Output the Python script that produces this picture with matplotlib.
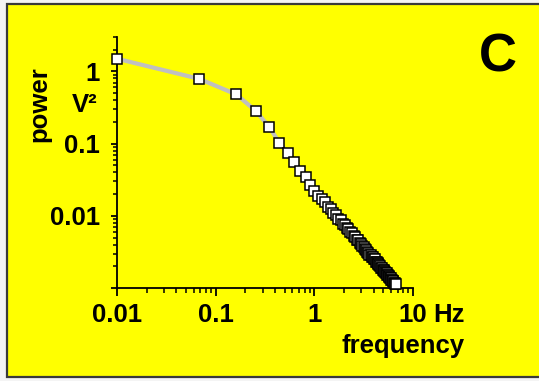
import matplotlib
matplotlib.use("Agg")
import matplotlib.pyplot as plt
from matplotlib.patches import Rectangle
from matplotlib.ticker import FixedLocator, LogLocator, NullFormatter

# spectrum (Hz, V^2)
freq = [0.01, 0.068, 0.162, 0.255, 0.349, 0.442, 0.536, 0.629, 0.723, 0.816,
        0.910, 1.003, 1.097, 1.19, 1.284, 1.377, 1.471, 1.564, 1.658, 1.751,
        1.845, 1.938, 2.032, 2.125, 2.219, 2.312, 2.406, 2.499, 2.593, 2.686,
        2.780, 2.873, 2.967, 3.060, 3.154, 3.247, 3.341, 3.434, 3.528, 3.621,
        3.715, 3.808, 3.902, 3.995, 4.089, 4.182, 4.276, 4.369, 4.463, 4.556,
        4.650, 4.743, 4.837, 4.930, 5.024, 5.117, 5.211, 5.304, 5.398, 5.491,
        5.585, 5.678, 5.772, 5.865, 5.959, 6.052, 6.146, 6.239, 6.333, 6.426,
        6.520, 6.613, 6.707]
power = [1.5, 0.79, 0.48, 0.284, 0.17, 0.103, 0.074, 0.055, 0.042, 0.034,
         0.027, 0.022, 0.019, 0.0170, 0.0153, 0.0133, 0.0124, 0.0109, 0.0102,
         0.0091, 0.0087, 0.0078, 0.0075, 0.0067, 0.0065, 0.0059, 0.0057,
         0.0052, 0.0051, 0.0046, 0.0046, 0.0042, 0.0041, 0.0038, 0.0037,
         0.0035, 0.0034, 0.0032, 0.0031, 0.0029, 0.0029, 0.0027, 0.0027,
         0.0025, 0.0025, 0.0023, 0.0023, 0.0022, 0.00215, 0.00205, 0.00202,
         0.00192, 0.0019, 0.0018, 0.00178, 0.0017, 0.00168, 0.00161, 0.0016,
         0.00153, 0.00151, 0.00145, 0.00143, 0.00138, 0.00136, 0.00131,
         0.0013, 0.00125, 0.00124, 0.00119, 0.00118, 0.00114, 0.00112]

xticks = [0.01, 0.1, 1, 10]
xlabels = ["0.01", "0.1", "1", "10"]
yticks = [0.001, 0.01, 0.1, 1]
ylabels = ["", "0.01", "0.1", "1"]

YELLOW = "#ffff00"
FS = 18.5
plt.rcParams["font.family"] = ["Liberation Sans", "DejaVu Sans"]
plt.rcParams["font.weight"] = "bold"

W, H = 539, 381
fig = plt.figure(figsize=(W / 100, H / 100), dpi=100, facecolor="#f4f4f4")
fig.patches.append(Rectangle((7 / W, 4 / H), 1.2, 373 / H,
                             transform=fig.transFigure, facecolor=YELLOW,
                             edgecolor="#3a3a3a", lw=1.6, zorder=-5))

ax = fig.add_axes([117 / W, 1 - 288 / H, 296 / W, 251 / H], zorder=2)
ax.set_facecolor("none")
ax.set_xscale("log")
ax.set_yscale("log")
ax.set_xlim(0.01, 10)
ax.set_ylim(0.001, 3)

ax.plot(freq, power, color="#c0c0c0", lw=3, zorder=2, clip_on=False)
ax.plot(freq, power, ls="none", marker="s", ms=6.5, mfc="white", mec="black",
        mew=1.1, zorder=3, clip_on=False)

for s in ["top", "right"]:
    ax.spines[s].set_visible(False)
for s in ["left", "bottom"]:
    ax.spines[s].set_linewidth(1.3)

ax.xaxis.set_major_locator(FixedLocator(xticks))
ax.set_xticklabels(xlabels)
ax.xaxis.set_minor_locator(LogLocator(base=10, subs=range(2, 10)))
ax.xaxis.set_minor_formatter(NullFormatter())
ax.yaxis.set_major_locator(FixedLocator(yticks))
ax.set_yticklabels(ylabels)
ax.yaxis.set_minor_locator(LogLocator(base=10, subs=range(2, 10)))
ax.yaxis.set_minor_formatter(NullFormatter())

ax.tick_params(axis="x", which="major", direction="out", length=6, width=1.3,
               pad=4.5, labelsize=FS)
ax.tick_params(axis="x", which="minor", direction="out", length=3.5, width=1.1)
ax.tick_params(axis="y", which="major", direction="out", length=4, width=1.3,
               pad=8.5, labelsize=FS)
ax.tick_params(axis="y", which="minor", direction="out", length=3, width=1.1)

ax.annotate("Hz", xy=(10, 0), xycoords=("data", "axes fraction"),
            xytext=(14.5, -6 - 4.5), textcoords="offset points",
            ha="left", va="top", fontsize=FS, fontweight="bold")

fig.text(46 / W, 1 - 104 / H, "power", rotation=90, rotation_mode="anchor",
         ha="center", va="baseline", fontsize=FS, fontweight="bold")
fig.text(85 / W, 1 - 112 / H, "V²", ha="center", va="baseline",
         fontsize=FS, fontweight="bold")
fig.text(403 / W, 1 - 352.5 / H, "frequency", ha="center", va="baseline",
         fontsize=FS, fontweight="bold")
fig.text(498 / W, 1 - 72 / H, "C", ha="center", va="baseline",
         fontsize=38, fontweight="bold")

fig.savefig("out.png", dpi=100, facecolor=fig.get_facecolor())
